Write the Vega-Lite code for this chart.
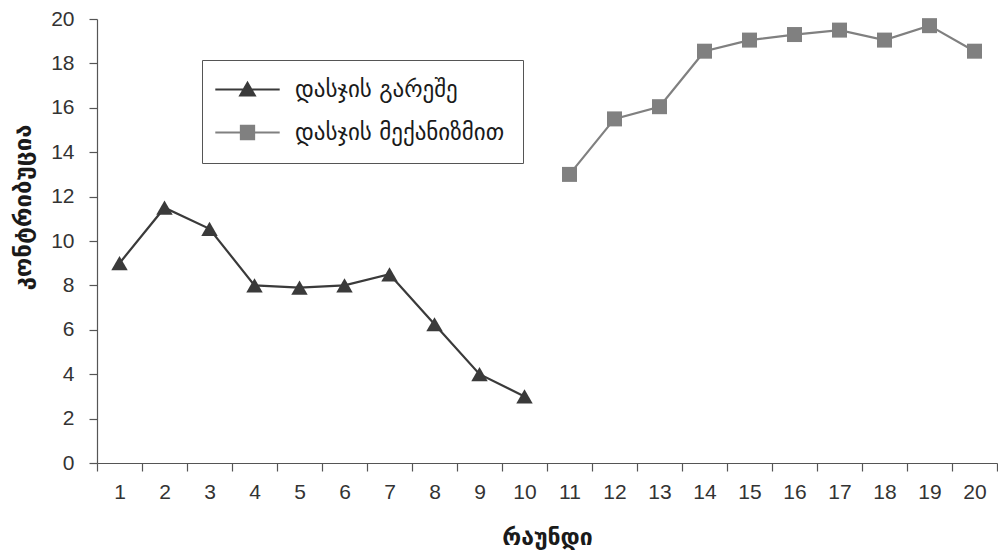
{
  "$schema": "https://vega.github.io/schema/vega-lite/v6.json",
  "width": 900,
  "height": 444,
  "autosize": "none",
  "padding": {"left": 97, "top": 19, "right": 1, "bottom": 89},
  "background": "white",
  "config": {
    "view": {"stroke": null},
    "axis": {
      "domainColor": "#555555",
      "domainWidth": 1.2,
      "tickColor": "#555555",
      "tickWidth": 1.2,
      "tickSize": 8,
      "grid": false,
      "labelFont": "Liberation Sans",
      "labelFontSize": 21,
      "labelColor": "#333333",
      "titleFont": "DejaVu Sans",
      "titleFontSize": 23,
      "titleFontWeight": "bold",
      "titleColor": "#1a1a1a"
    }
  },
  "data": {
    "values": [
      {"round": 1, "series": "დასჯის გარეშე", "value": 9.0},
      {"round": 2, "series": "დასჯის გარეშე", "value": 11.5},
      {"round": 3, "series": "დასჯის გარეშე", "value": 10.55},
      {"round": 4, "series": "დასჯის გარეშე", "value": 8.0},
      {"round": 5, "series": "დასჯის გარეშე", "value": 7.9},
      {"round": 6, "series": "დასჯის გარეშე", "value": 8.0},
      {"round": 7, "series": "დასჯის გარეშე", "value": 8.5},
      {"round": 8, "series": "დასჯის გარეშე", "value": 6.25},
      {"round": 9, "series": "დასჯის გარეშე", "value": 4.0},
      {"round": 10, "series": "დასჯის გარეშე", "value": 3.0},
      {"round": 11, "series": "დასჯის მექანიზმით", "value": 13.0},
      {"round": 12, "series": "დასჯის მექანიზმით", "value": 15.5},
      {"round": 13, "series": "დასჯის მექანიზმით", "value": 16.05},
      {"round": 14, "series": "დასჯის მექანიზმით", "value": 18.55},
      {"round": 15, "series": "დასჯის მექანიზმით", "value": 19.05},
      {"round": 16, "series": "დასჯის მექანიზმით", "value": 19.3},
      {"round": 17, "series": "დასჯის მექანიზმით", "value": 19.5},
      {"round": 18, "series": "დასჯის მექანიზმით", "value": 19.05},
      {"round": 19, "series": "დასჯის მექანიზმით", "value": 19.7},
      {"round": 20, "series": "დასჯის მექანიზმით", "value": 18.55}
    ]
  },
  "encoding": {
    "x": {
      "field": "round",
      "type": "ordinal",
      "scale": {"domain": [1,2,3,4,5,6,7,8,9,10,11,12,13,14,15,16,17,18,19,20], "paddingInner": 0, "paddingOuter": 0},
      "axis": {
        "title": "რაუნდი",
        "labelAngle": 0,
        "tickBand": "extent",
        "labelPadding": 10,
        "titleY": 74,
        "titleBaseline": "middle"
      }
    },
    "y": {
      "field": "value",
      "type": "quantitative",
      "scale": {"domain": [0, 20], "nice": false},
      "axis": {
        "title": "კონტრიბუცია",
        "values": [0,2,4,6,8,10,12,14,16,18,20],
        "labelPadding": 15,
        "titleX": -74,
        "titleY": 188,
        "titleFontSize": 24,
        "titleBaseline": "middle"
      }
    },
    "color": {
      "field": "series",
      "type": "nominal",
      "scale": {"domain": ["დასჯის გარეშე", "დასჯის მექანიზმით"], "range": ["#3a3a3a", "#808080"]},
      "legend": {
        "title": null,
        "orient": "none",
        "legendX": 105,
        "legendY": 41,
        "strokeColor": "#555555",
        "fillColor": "white",
        "padding": 18,
        "symbolSize": 196,
        "symbolOffset": 16,
        "labelOffset": 36,
        "labelLimit": 400,
        "rowPadding": 19,
        "labelFont": "DejaVu Sans",
        "labelFontSize": 23,
        "labelColor": "#1a1a1a",
        "encode": {
          "symbols": {
            "update": {
              "shape": {"signal": "datum.value === 'დასჯის გარეშე' ? 'M-4.6,0H4.6M0,-0.95L1.05,0.85L-1.05,0.85Z' : 'M-4.6,0H4.6M-0.95,-0.95H0.95V0.95H-0.95Z'"},
              "fill": {"signal": "scale('color', datum.value)"},
              "stroke": {"signal": "scale('color', datum.value)"},
              "strokeWidth": {"value": 2},
              "opacity": {"value": 1},
              "fillOpacity": {"value": 1},
              "strokeOpacity": {"value": 1}
            }
          }
        }
      }
    }
  },
  "layer": [
    {
      "mark": {"type": "line", "strokeWidth": 2.2}
    },
    {
      "transform": [{"filter": "datum.series === 'დასჯის გარეშე'"}],
      "mark": {"type": "point", "shape": "triangle-up", "filled": true, "size": 270, "opacity": 1}
    },
    {
      "transform": [{"filter": "datum.series === 'დასჯის მექანიზმით'"}],
      "mark": {"type": "point", "shape": "square", "filled": true, "size": 225, "opacity": 1}
    }
  ]
}
